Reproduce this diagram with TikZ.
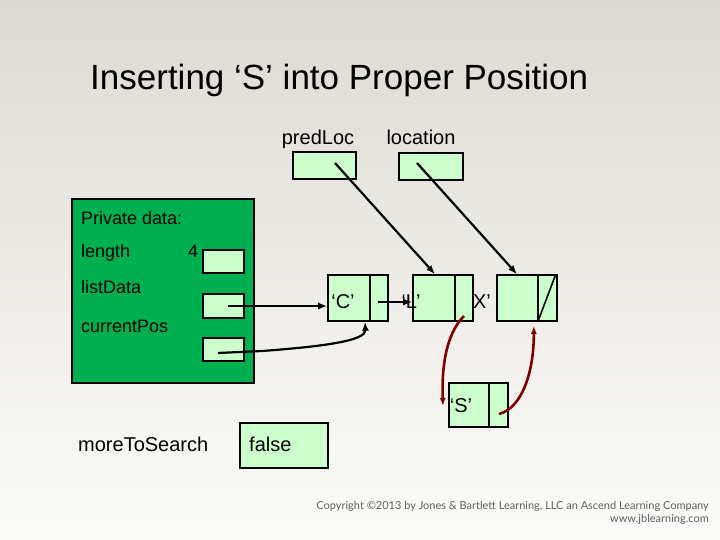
\documentclass[tikz,border=0pt]{standalone}
\usepackage{fontspec}
\usetikzlibrary{arrows.meta}
\setmainfont{Liberation Sans}
\newfontfamily\copyfont{Lato}
\definecolor{panelgreen}{RGB}{0,176,80}
\definecolor{cellgreen}{RGB}{204,255,204}
\definecolor{linkred}{RGB}{128,0,0}
\definecolor{copygray}{RGB}{95,95,95}
\definecolor{slidetop}{RGB}{221,218,210}
\definecolor{slidebottom}{RGB}{252,252,250}
\tikzset{
  cell/.style={draw,line width=1.6pt,fill=cellgreen,inner sep=0pt},
  ptr/.style={-{Latex[length=9pt,width=7pt]},line width=2.2pt},
  relink/.style={-{Latex[length=8pt,width=6pt]},line width=2.6pt,draw=linkred},
  lbl/.style={font=\fontsize{20}{24}\selectfont,inner sep=0pt,anchor=base},
  plbl/.style={font=\fontsize{18}{22}\selectfont,inner sep=0pt,anchor=base west},
}
\begin{document}
\begin{tikzpicture}[x=1pt,y=-1pt]
\shade[top color=slidetop,bottom color=slidebottom] (0,0) rectangle (720,540);
\useasboundingbox (0,0) rectangle (720,540);
% title
\node[font=\fontsize{35}{42}\selectfont,inner sep=0pt,anchor=base west] (title) at (90,90) {Inserting ‘S’ into Proper Position};
% external pointers
\node[lbl] (predlbl) at (318,145) {predLoc};
\node[lbl] (loclbl) at (421,145) {location};
\node[cell,minimum width=63pt,minimum height=27pt] (pred) at (324.5,165.5) {};
\node[cell,minimum width=64pt,minimum height=27pt] (loc) at (431,166.5) {};
% private data panel
\node[draw,fill=panelgreen,line width=1.6pt,minimum width=182pt,minimum height=184pt] (panel) at (163,291) {};
\node[plbl] (privlbl) at (81,225) {Private data:};
\node[plbl] (lenlbl) at (81,257) {length};
\node[plbl] (lenval) at (188,257) {4};
\node[plbl] (datalbl) at (81,293) {listData};
\node[plbl] (poslbl) at (81,332) {currentPos};
\node[cell,minimum width=41pt,minimum height=23pt] (len) at (223.5,261.5) {};
\node[cell,minimum width=41pt,minimum height=24pt] (data) at (223.5,306) {};
\node[cell,minimum width=41pt,minimum height=23pt] (pos) at (223.5,349.5) {};
% list nodes
\node[cell,minimum width=60pt,minimum height=46pt] (cnode) at (358,298) {};
\node[cell,minimum width=60pt,minimum height=46pt] (lnode) at (443,298) {};
\node[cell,minimum width=60pt,minimum height=46pt] (xnode) at (527,298) {};
\node[cell,minimum width=59pt,minimum height=44pt] (snode) at (478.5,405) {};
\draw[line width=1.6pt] ([xshift=-19pt]cnode.north east) -- ([xshift=-19pt]cnode.south east);
\draw[line width=1.6pt] ([xshift=-19pt]lnode.north east) -- ([xshift=-19pt]lnode.south east);
\draw[line width=1.6pt] ([xshift=-20pt]xnode.north east) coordinate (xdivtop) -- ([xshift=-20pt]xnode.south east) coordinate (xdivbot);
\draw[line width=1.6pt] ([xshift=-20pt]snode.north east) -- ([xshift=-20pt]snode.south east);
\draw[line width=1.6pt] (xdivbot) -- ([xshift=-2pt]xnode.north east);
\node[lbl] (cval) at (343,308) {‘C’};
\node[lbl] (sval) at (461,412) {‘S’};
\node[lbl] (xval) at (482,308) {X’};
% more to search
\node[lbl,anchor=base west] (morelbl) at (78,451) {moreToSearch};
\node[cell,minimum width=88pt,minimum height=45pt] (more) at (284,445.5) {};
\node[lbl,anchor=base west] (moreval) at (249,451) {false};
% pointer origins
\coordinate (predp) at (335,163);
\coordinate (locp) at (417,163);
\coordinate (datap) at (228,306);
\coordinate (posp) at (218,353);
\coordinate (cnext) at (378,302);
\coordinate (lnext) at (464,316);
\coordinate (snext) at (499,414);
% connectors
\draw[ptr] (predp) -- ([xshift=-8pt]lnode.north);
\draw[ptr] (locp) -- ([xshift=-10pt]xnode.north);
\draw[ptr] (datap) -- (datap -| cnode.west);
\draw[ptr] (posp) -- (262,351) .. controls (330,346) and (366,340) .. ([xshift=-6pt]cnode.south east -| 371,0);
\draw[ptr] (cnext) -- (cnext -| lnode.west);
\node[lbl] (lval) at (411,308) {‘L’};
\draw[relink] (lnext) .. controls (452,328) and (441,352) .. (443,406);
\draw[relink] (snext) .. controls (522,408) and (534,372) .. ([xshift=-24pt,yshift=-4pt]xnode.south east);
% copyright
\node[font=\copyfont\fontsize{11}{13}\selectfont,text=copygray,inner sep=0pt,anchor=base east] (copy1) at (709,509) {Copyright ©2013 by Jones \& Bartlett Learning, LLC an Ascend Learning Company};
\node[font=\copyfont\fontsize{11}{13}\selectfont,text=copygray,inner sep=0pt,anchor=base east] (copy2) at (709,522) {www.jblearning.com};
\end{tikzpicture}
\end{document}
